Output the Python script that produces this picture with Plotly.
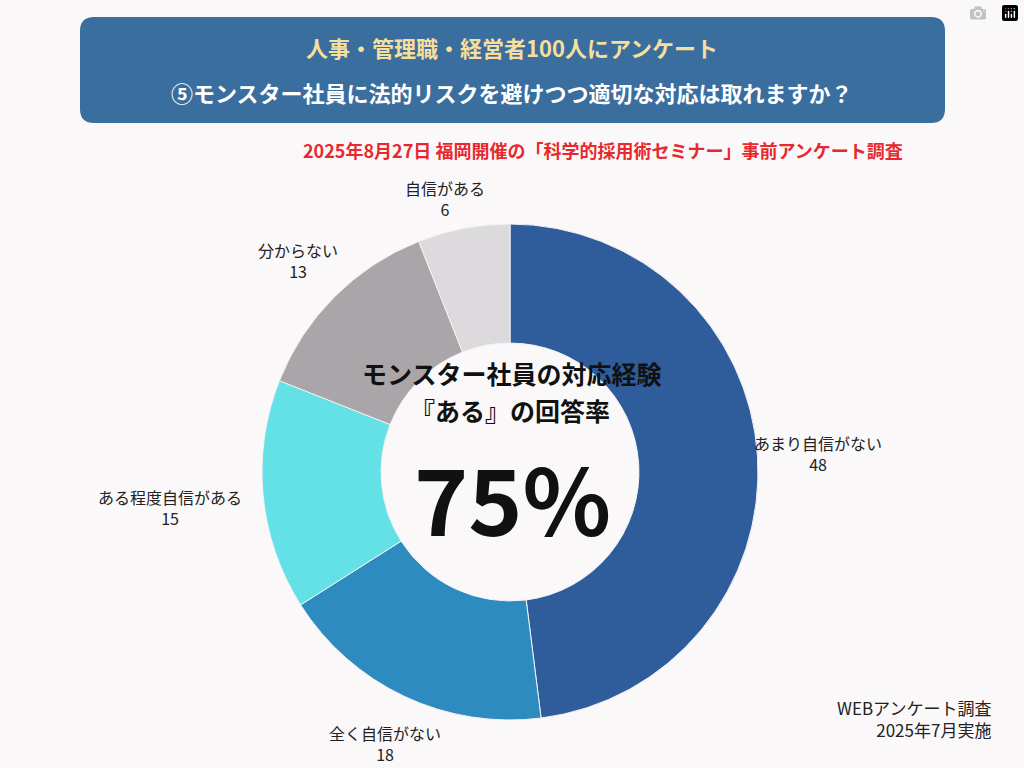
import plotly.graph_objects as go

labels = ["あまり自信がない", "全く自信がない", "ある程度自信がある", "分からない", "自信がある"]
values = [48, 18, 15, 13, 6]
colors = ["#2f5d9b", "#2e8bbf", "#64e1e7", "#a9a5a9", "#dddadd"]
label_pos = [(818, 453), (385, 743), (170, 507), (298, 260), (445, 198)]

W, H = 1024, 768
def px(x): return x / W
def py(y): return 1 - y / H

FONT = "Noto Sans CJK JP"
fig = go.Figure(go.Pie(
    labels=labels, values=values, sort=False, direction="clockwise", rotation=0,
    hole=0.52, marker=dict(colors=colors, line=dict(color="#f2f2f2", width=1)),
    textinfo="none", hoverinfo="label+value", showlegend=False,
    domain=dict(x=[px(262), px(758)], y=[py(720), py(224)]),
))

anns = []
for (x, y), lab, v in zip(label_pos, labels, values):
    anns.append(dict(x=px(x), y=py(y), text=f"{lab}<br>{v}", align="center",
                     font=dict(family=FONT, size=16, color="#222")))
anns += [
    dict(x=px(512), y=py(47), text="人事・管理職・経営者100人にアンケート",
         font=dict(family=FONT, size=22, color="#f6de9b", weight="bold")),
    dict(x=px(512), y=py(92), text="⑤モンスター社員に法的リスクを避けつつ適切な対応は取れますか？",
         font=dict(family=FONT, size=22, color="white", weight="bold")),
    dict(x=px(603), y=py(150), text="2025年8月27日 福岡開催の「科学的採用術セミナー」事前アンケート調査",
         font=dict(family=FONT, size=18, color="#e8282e", weight="bold")),
    dict(x=px(512), y=py(373), text="モンスター社員の対応経験",
         font=dict(family=FONT, size=25, color="#111", weight="bold")),
    dict(x=px(510), y=py(410), text="『ある』の回答率",
         font=dict(family=FONT, size=25, color="#111", weight="bold")),
    dict(x=px(512), y=py(495), text="75%",
         font=dict(family=FONT, size=92, color="#111", weight="bold")),
    dict(x=px(993), y=py(718), xanchor="right", align="right", text="WEBアンケート調査<br>2025年7月実施",
         font=dict(family=FONT, size=17, color="#222")),
]
for a in anns:
    a.setdefault("xanchor", "center")
    a.update(xref="paper", yref="paper", showarrow=False, yanchor="middle")

x0, x1, y0, y1 = px(80), px(945), py(123), py(17)
rx, ry = 14 / W, 14 / H
path = (f"M {x0+rx},{y0} L {x1-rx},{y0} Q {x1},{y0} {x1},{y0+ry} L {x1},{y1-ry} Q {x1},{y1} {x1-rx},{y1} "
        f"L {x0+rx},{y1} Q {x0},{y1} {x0},{y1-ry} L {x0},{y0+ry} Q {x0},{y0} {x0+rx},{y0} Z")

fig.update_layout(
    width=W, height=H, margin=dict(l=0, r=0, t=0, b=0),
    paper_bgcolor="#faf8f9", plot_bgcolor="#faf8f9",
    annotations=anns,
    shapes=[dict(type="path", path=path, xref="paper", yref="paper",
                 fillcolor="#3a6e9e", line=dict(width=0), layer="below")],
)
fig.write_html("out.html", post_script="document.body.style.margin='0';document.body.style.background='#faf8f9';")
